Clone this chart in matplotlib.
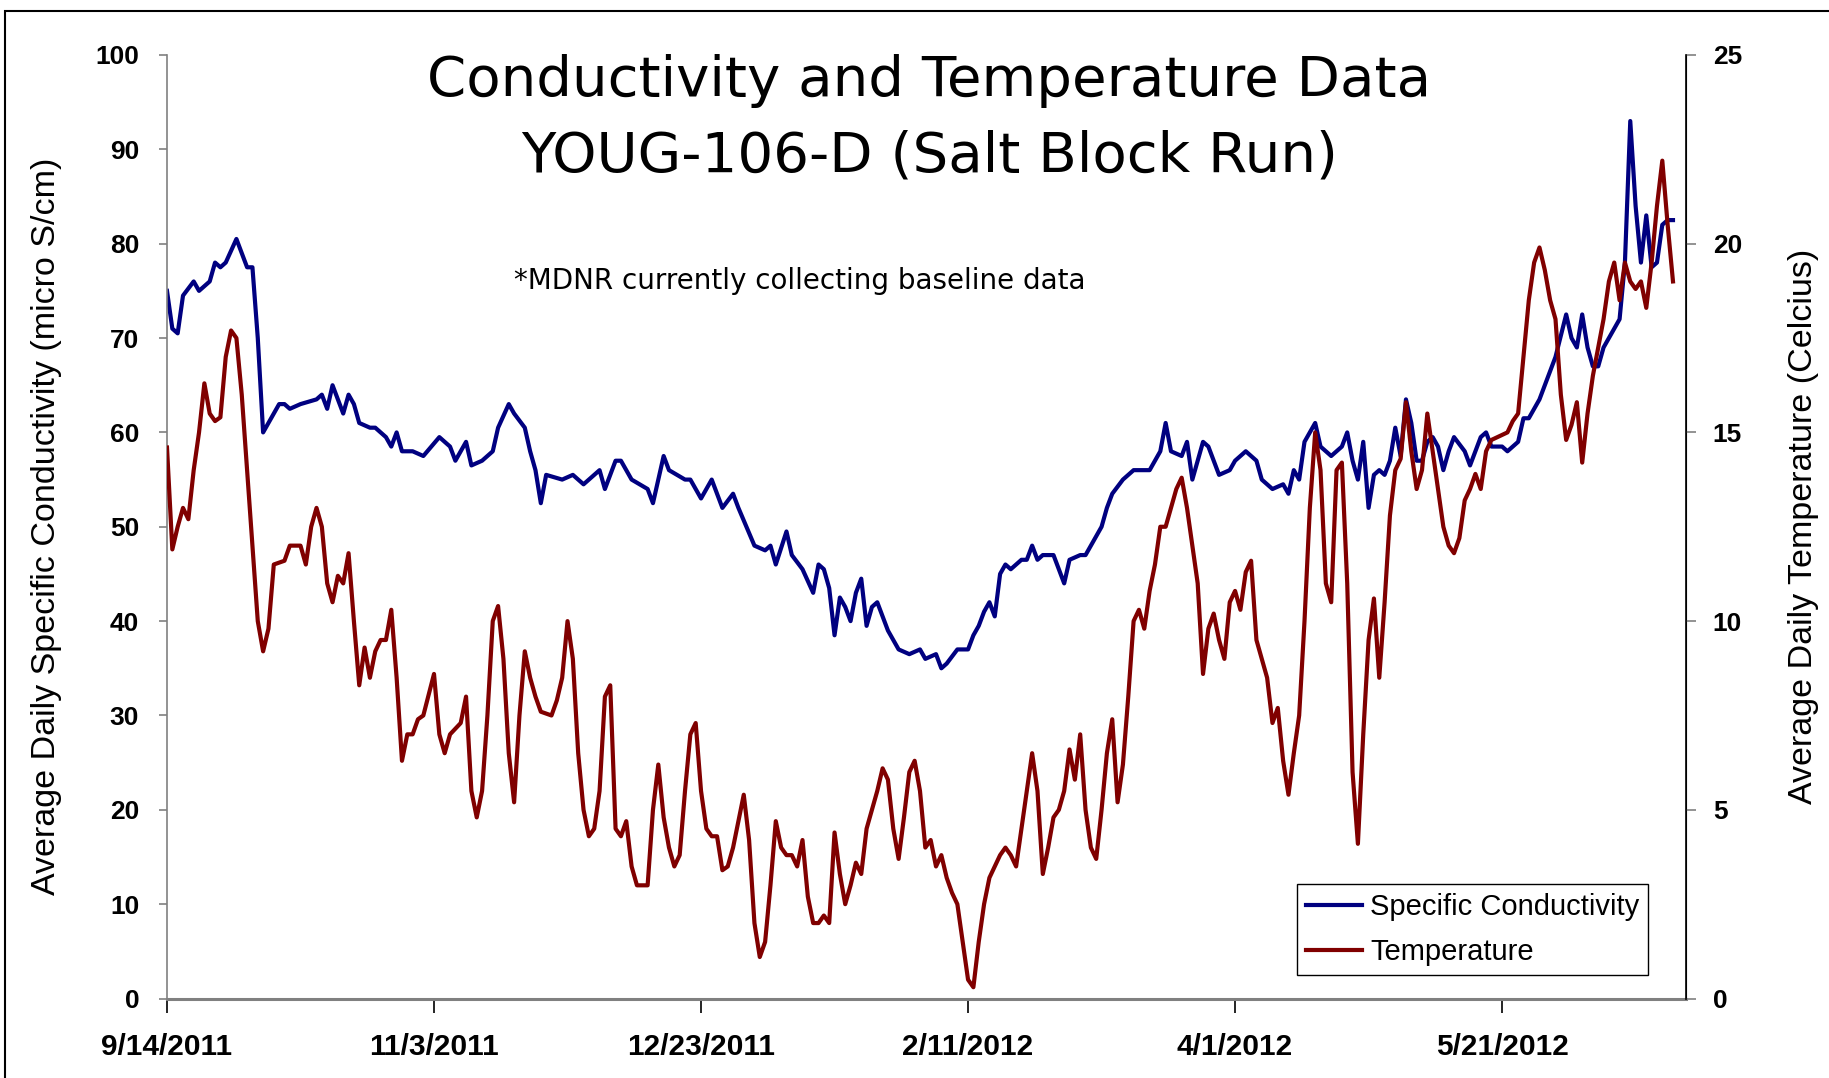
import matplotlib
matplotlib.use("Agg")
import matplotlib.pyplot as plt
from matplotlib.patches import Rectangle

# days since 9/14/2011 and average daily specific conductivity (micro S/cm)
cond_day = [0, 1, 2, 3, 5, 6, 8, 9, 10, 11, 13, 14, 15, 16, 17, 18, 19, 21, 22, 23, 25, 28, 29, 30, 31,
            33, 34, 35, 36, 38, 39, 41, 42, 43, 44, 46, 48, 51, 53, 54, 56, 57, 59, 61, 62, 64, 65, 67,
            68, 69, 70, 71, 74, 76, 78, 80, 81, 82, 84, 85, 87, 90, 91, 93, 94, 97, 98, 100, 102, 103,
            104, 106, 107, 110, 112, 113, 114, 116, 117, 119, 121, 122, 123, 124, 125, 126, 127, 128,
            129, 130, 131, 132, 133, 134, 135, 137, 139, 141, 142, 144, 145, 146, 148, 150, 151, 152,
            153, 154, 155, 156, 157, 158, 160, 161, 162, 163, 164, 166, 168, 169, 171, 172, 173, 175,
            176, 177, 179, 181, 184, 186, 187, 188, 190, 191, 192, 193, 194, 195, 196, 197, 199, 200,
            202, 204, 205, 207, 209, 210, 211, 212, 213, 215, 216, 218, 220, 221, 222, 223, 224, 225,
            226, 227, 228, 229, 230, 231, 232, 233, 234, 235, 236, 237, 238, 239, 240, 241, 243, 244,
            245, 246, 247, 248, 250, 251, 253, 254, 255, 256, 257, 258, 259, 260, 262, 263, 264, 265,
            266, 267, 268, 269, 270, 271, 272, 273, 274, 275, 276, 277, 278, 279, 280, 281, 282]
cond_val = [75, 71, 70.5, 74.5, 76, 75, 76, 78, 77.5, 78, 80.5, 79, 77.5, 77.5, 70, 60, 61, 63, 63, 62.5, 63, 63.5, 64, 62.5, 65,
            62, 64, 63, 61, 60.5, 60.5, 59.5, 58.5, 60, 58, 58, 57.5, 59.5, 58.5, 57, 59, 56.5, 57, 58, 60.5, 63, 62, 60.5,
            58, 56, 52.5, 55.5, 55, 55.5, 54.5, 55.5, 56, 54, 57, 57, 55, 54, 52.5, 57.5, 56, 55, 55, 53, 55, 53.5,
            52, 53.5, 52, 48, 47.5, 48, 46, 49.5, 47, 45.5, 43, 46, 45.5, 43.5, 38.5, 42.5, 41.5, 40,
            43, 44.5, 39.5, 41.5, 42, 40.5, 39, 37, 36.5, 37, 36, 36.5, 35, 35.5, 37, 37, 38.5, 39.5,
            41, 42, 40.5, 45, 46, 45.5, 46.5, 46.5, 48, 46.5, 47, 47, 44, 46.5, 47, 47, 48, 50,
            52, 53.5, 55, 56, 56, 58, 61, 58, 57.5, 59, 55, 57, 59, 58.5, 57, 55.5, 56, 57,
            58, 57, 55, 54, 54.5, 53.5, 56, 55, 59, 61, 58.5, 57.5, 58.5, 60, 57, 55, 59, 52,
            55.5, 56, 55.5, 57, 60.5, 57.5, 63.5, 61, 57, 57, 59, 59.5, 58.5, 56, 58, 59.5, 58, 56.5,
            58, 59.5, 60, 58.5, 58.5, 58, 59, 61.5, 61.5, 62.5, 63.5, 65, 66.5, 68, 72.5, 70, 69, 72.5,
            69, 67, 67, 69, 70, 71, 72, 78, 93, 84, 78, 83, 77.5, 78, 82, 82.5, 82.5]

# days since 9/14/2011 and average daily temperature (Celcius)
temp_day = [0, 1, 2, 3, 4, 5, 6, 7, 8, 9, 10, 11, 12, 13, 14, 15, 16, 17, 18, 19, 20, 22, 23, 25, 26, 27,
            28, 29, 30, 31, 32, 33, 34, 35, 36, 37, 38, 39, 40, 41, 42, 43, 44, 45, 46, 47, 48, 50, 51,
            52, 53, 55, 56, 57, 58, 59, 60, 61, 62, 63, 64, 65, 66, 67, 68, 69, 70, 72, 73, 74, 75, 76,
            77, 78, 79, 80, 81, 82, 83, 84, 85, 86, 87, 88, 90, 91, 92, 93, 94, 95, 96, 97, 98, 99, 100,
            101, 102, 103, 104, 105, 106, 108, 109, 110, 111, 112, 113, 114, 115, 116, 117, 118, 119,
            120, 121, 122, 123, 124, 125, 126, 127, 128, 129, 130, 131, 132, 133, 134, 135, 136, 137,
            138, 139, 140, 141, 142, 143, 144, 145, 146, 147, 148, 149, 150, 151, 152, 153, 154, 155,
            156, 157, 158, 159, 160, 161, 162, 163, 164, 165, 166, 167, 168, 169, 170, 171, 172, 173,
            174, 175, 176, 177, 178, 179, 180, 181, 182, 183, 184, 185, 186, 187, 188, 189, 190, 191,
            192, 193, 194, 195, 196, 197, 198, 199, 200, 201, 202, 203, 204, 205, 206, 207, 208, 209,
            210, 211, 212, 213, 214, 215, 216, 217, 218, 219, 220, 221, 222, 223, 224, 225, 226, 227,
            228, 229, 230, 231, 232, 233, 234, 235, 236, 237, 238, 239, 240, 241, 242, 243, 244, 245,
            246, 247, 248, 251, 252, 253, 254, 255, 256, 257, 258, 259, 260, 261, 262, 263, 264, 265,
            266, 267, 269, 270, 271, 272, 273, 274, 275, 276, 277, 278, 279, 280, 281, 282]
temp_val = [14.6, 11.9, 12.5, 13, 12.7, 14, 15, 16.3, 15.5, 15.3, 15.4, 17, 17.7, 17.5, 16, 14, 12, 10, 9.2, 9.8, 11.5, 11.6, 12, 12, 11.5, 12.5,
            13, 12.5, 11, 10.5, 11.2, 11, 11.8, 10, 8.3, 9.3, 8.5, 9.2, 9.5, 9.5, 10.3, 8.5, 6.3, 7, 7, 7.4, 7.5, 8.6, 7,
            6.5, 7, 7.3, 8, 5.5, 4.8, 5.5, 7.5, 10, 10.4, 9, 6.5, 5.2, 7.5, 9.2, 8.5, 8, 7.6, 7.5, 7.9, 8.5, 10, 9,
            6.5, 5, 4.3, 4.5, 5.5, 8, 8.3, 4.5, 4.3, 4.7, 3.5, 3.0, 3.0, 5, 6.2, 4.8, 4, 3.5, 3.8, 5.5, 7, 7.3, 5.5,
            4.5, 4.3, 4.3, 3.4, 3.5, 4, 5.4, 4.2, 2, 1.1, 1.5, 3, 4.7, 4, 3.8, 3.8, 3.5, 4.2,
            2.7, 2.0, 2.0, 2.2, 2.0, 4.4, 3.3, 2.5, 3, 3.6, 3.3, 4.5, 5, 5.5, 6.1, 5.8, 4.5, 3.7,
            4.8, 6, 6.3, 5.5, 4, 4.2, 3.5, 3.8, 3.2, 2.8, 2.5, 1.5, 0.5, 0.3, 1.5, 2.5, 3.2, 3.5,
            3.8, 4, 3.8, 3.5, 4.5, 5.5, 6.5, 5.5, 3.3, 4, 4.8, 5, 5.5, 6.6, 5.8, 7, 5, 4,
            3.7, 5, 6.5, 7.4, 5.2, 6.2, 8, 10, 10.3, 9.8, 10.8, 11.5, 12.5, 12.5, 13, 13.5, 13.8, 13,
            12, 11, 8.6, 9.8, 10.2, 9.5, 9, 10.5, 10.8, 10.3, 11.3, 11.6, 9.5, 9, 8.5, 7.3, 7.7, 6.3,
            5.4, 6.5, 7.5, 10, 13, 15, 14, 11, 10.5, 14, 14.2, 11, 6, 4.1, 7, 9.5, 10.6, 8.5,
            10.5, 12.8, 14, 14.3, 15.8, 14.5, 13.5, 14, 15.5, 14.5, 13.5, 12.5, 12, 11.8, 12.2, 13.2, 13.5, 13.9,
            13.5, 14.5, 14.8, 15, 15.3, 15.5, 17, 18.5, 19.5, 19.9, 19.3, 18.5, 18, 16, 14.8, 15.2, 15.8, 14.2,
            15.5, 16.5, 18, 19, 19.5, 18.5, 19.5, 19, 18.8, 19, 18.3, 19.5, 21, 22.2, 20.5, 19]

tick_days = [0, 50, 100, 150, 200, 250]
tick_labels = ["9/14/2011", "11/3/2011", "12/23/2011", "2/11/2012", "4/1/2012", "5/21/2012"]

navy = "#000080"
maroon = "#800000"
grey = "#808080"

fig = plt.figure(figsize=(18.29, 10.78), dpi=100)
ax = fig.add_axes([0.0913, 0.0737, 0.8307, 0.8753])
ax2 = ax.twinx()

l1, = ax.plot(cond_day, cond_val, color=navy, lw=3.0, label="Specific Conductivity",
              solid_joinstyle="round")
l2, = ax2.plot(temp_day, temp_val, color=maroon, lw=3.0, label="Temperature",
               solid_joinstyle="round")

ax.set_xlim(0, 284.5)
ax.set_ylim(0, 100)
ax2.set_ylim(0, 25)
ax.set_yticks(range(0, 101, 10))
ax2.set_yticks(range(0, 26, 5))
ax.set_xticks(tick_days)
ax.set_xticklabels(tick_labels)

for t in ax.get_yticklabels() + ax2.get_yticklabels():
    t.set_fontfamily("Liberation Sans")
    t.set_fontweight("bold")
    t.set_fontsize(19)
for t in ax.get_xticklabels():
    t.set_fontfamily("Liberation Sans")
    t.set_fontweight("bold")
    t.set_fontsize(21.5)

for a in (ax, ax2):
    a.spines["top"].set_visible(False)
ax.spines["left"].set_color(grey)
ax.spines["left"].set_linewidth(1.2)
ax.spines["bottom"].set_color(grey)
ax.spines["bottom"].set_linewidth(2.2)
ax2.spines["bottom"].set_visible(False)
ax2.spines["left"].set_visible(False)
ax2.spines["right"].set_color("black")
ax2.spines["right"].set_linewidth(1.2)

ax.tick_params(axis="y", direction="out", length=6, width=1.2, color=grey, pad=14)
ax.tick_params(axis="x", direction="out", length=10, width=1.2, color="black", pad=15)
ax2.tick_params(axis="y", direction="out", length=7, width=1.2, color=grey, pad=12)

ax.set_ylabel("Average Daily Specific Conductivity (micro S/cm)", family="Liberation Sans",
              fontsize=24.5, labelpad=24)
ax2.set_ylabel("Average Daily Temperature (Celcius)", family="Liberation Sans",
               fontsize=24.5, labelpad=33)

fig.text(0.508, 0.925, "Conductivity and Temperature Data", ha="center", va="center",
         family="DejaVu Sans", fontsize=40.5)
fig.text(0.508, 0.855, "YOUG-106-D (Salt Block Run)", ha="center", va="center",
         family="DejaVu Sans", fontsize=40.5)
fig.text(0.281, 0.739, "*MDNR currently collecting baseline data", ha="left", va="center",
         family="DejaVu Sans", fontsize=20)

leg = ax2.legend(handles=[l1, l2], loc="lower right", bbox_to_anchor=(0.975, 0.025),
                 borderaxespad=0, fancybox=False, framealpha=1, edgecolor="black",
                 prop=dict(family="Liberation Sans", size=21), handlelength=1.9,
                 handletextpad=0.3, borderpad=0.3, labelspacing=0.6)
leg.get_frame().set_linewidth(1.0)

# outer chart border
fig.patches.append(Rectangle((0.003, -0.01), 1.2, 1.0, transform=fig.transFigure,
                             fill=False, edgecolor="black", lw=1.5))

fig.savefig("out.png", dpi=100)
